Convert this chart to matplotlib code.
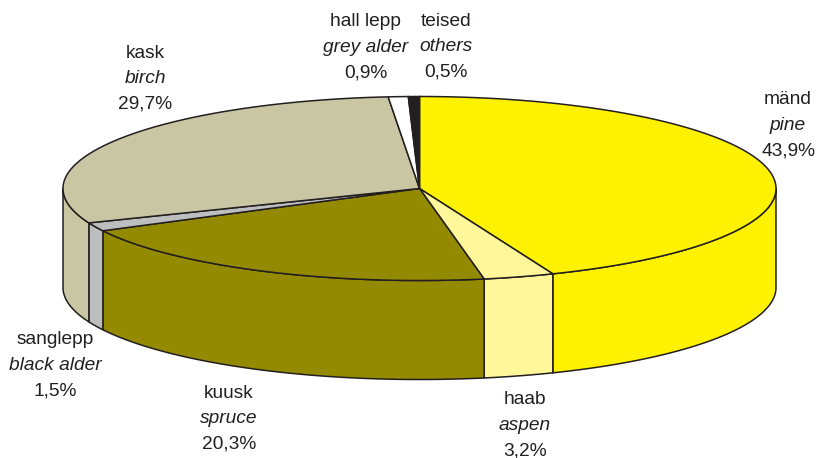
#!/usr/bin/env python3
# -*- coding: utf-8 -*-
import numpy as np
import matplotlib
matplotlib.use('Agg')
import matplotlib.pyplot as plt

# share of each tree species, clockwise from the top
names_et = ['mänd', 'haab', 'kuusk', 'sanglepp', 'kask', 'hall lepp', 'teised']
names_en = ['pine', 'aspen', 'spruce', 'black alder', 'birch', 'grey alder', 'others']
shares = [43.9, 3.2, 20.3, 1.5, 29.7, 0.9, 0.5]
colors = ['#fff200', '#fff799', '#948a00', '#bcbec0', '#c9c7a3', '#ffffff', '#231f20']
label_xy = [(788, 123.5), (525, 423), (229, 416.5), (55, 363.5), (145, 76.5), (366, 45.5), (446, 44.5)]

plt.rcParams['font.family'] = ['Liberation Sans', 'DejaVu Sans']

cx, cy = 419.5, 188.5
rx, ry = 356.5, 92
depth = 99
edge = '#231f20'


def rim(a0, a1):
    t = np.radians(np.linspace(a0, a1, max(int(abs(a1 - a0)) * 4, 2)))
    return cx + rx * np.sin(t), cy - ry * np.cos(t)


fig = plt.figure(figsize=(8.19, 4.58), dpi=100)
ax = fig.add_axes([0, 0, 1, 1])
ax.set_xlim(0, 819)
ax.set_ylim(458, 0)
ax.axis('off')

angles = np.concatenate([[0], np.cumsum(shares)]) * 3.6

# side wall first, only the part of the rim facing the viewer
for i in range(len(shares)):
    a0 = max(angles[i], 90)
    a1 = min(angles[i + 1], 270)
    if a1 <= a0:
        continue
    x, y = rim(a0, a1)
    ax.fill(np.r_[x, x[::-1]], np.r_[y, y[::-1] + depth], fc=colors[i], ec=edge, lw=1.1, zorder=2)

# top face
for i in range(len(shares)):
    x, y = rim(angles[i], angles[i + 1])
    ax.fill(np.r_[cx, x], np.r_[cy, y], fc=colors[i], ec=edge, lw=1.1, zorder=3)

# three lines per label, on fixed baselines
for i in range(len(shares)):
    x, y = label_xy[i]
    ax.text(x, y - 19, names_et[i], ha='center', va='baseline', fontsize=13.8, color=edge)
    ax.text(x, y + 6.5, names_en[i], ha='center', va='baseline', fontsize=13.8, style='italic', color=edge)
    ax.text(x, y + 32, ('%.1f%%' % shares[i]).replace('.', ','), ha='center', va='baseline',
            fontsize=13.8, color=edge)

fig.savefig('out.png', dpi=100)
